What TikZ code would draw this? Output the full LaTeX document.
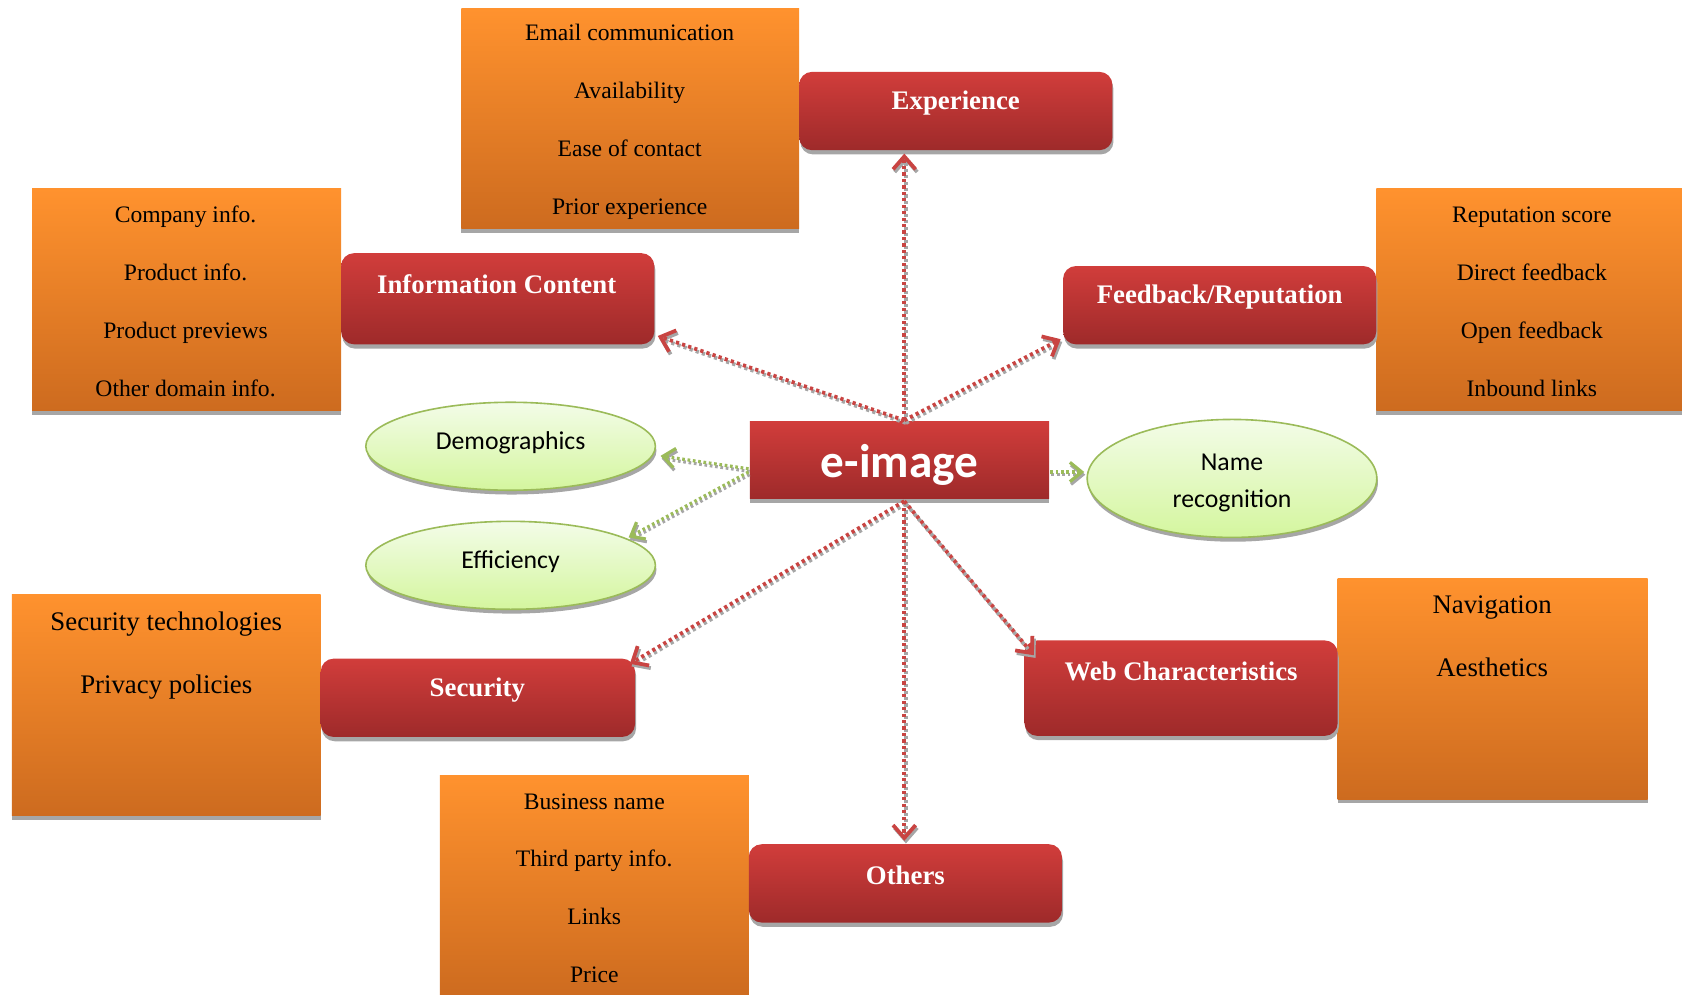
\documentclass[tikz,border=0pt]{standalone}
\usepackage{fontspec}
\setmainfont{Liberation Serif}
\newfontfamily\calib{Carlito}
\usetikzlibrary{arrows.meta,shapes.geometric,shadows,calc}
\definecolor{orT}{HTML}{FF922E}
\definecolor{orB}{HTML}{CD6B1F}
\definecolor{rdT}{HTML}{D13D3B}
\definecolor{rdB}{HTML}{9E2A2A}
\definecolor{grT}{HTML}{F3FCE8}
\definecolor{grB}{HTML}{D4F69E}
\definecolor{grE}{HTML}{9BBB59}
\definecolor{shd}{HTML}{A6A6A6}
\definecolor{arR}{HTML}{C94442}
\tikzset{
  orangebox/.style={rectangle, draw=none, top color=orT, bottom color=orB, inner sep=0pt,
    drop shadow={shadow xshift=0pt, shadow yshift=-4pt, fill=shd, opacity=1}},
  redbox/.style={rectangle, rounded corners=12pt, draw=none, top color=rdT, bottom color=rdB, inner sep=0pt,
    drop shadow={shadow xshift=1pt, shadow yshift=-4pt, fill=shd, opacity=1}},
  greenell/.style={ellipse, draw=grE, line width=1.5pt, top color=grT, bottom color=grB, inner sep=0pt,
    drop shadow={shadow xshift=1pt, shadow yshift=-4pt, fill=shd, opacity=1},
    font=\calib\fontsize{24}{35}\selectfont, align=center},
  greentext/.style={inner sep=0pt, align=center, font=\calib\fontsize{24}{35}\selectfont},
  ortext/.style={align=center, inner sep=0pt, font=\fontsize{22}{54}\selectfont},
  ortextbig/.style={align=center, inner sep=0pt, font=\fontsize{25}{59}\selectfont},
  redtext/.style={inner sep=0pt, text=white, font=\bfseries\fontsize{25}{30}\selectfont},
  redarrow/.style={draw=arR, line width=3.5pt, dash pattern=on 3pt off 3pt,
    -{Straight Barb[length=12pt,width=21pt,line width=3.5pt]}},
  redshadow/.style={draw=shd, line width=3.5pt, dash pattern=on 3pt off 3pt,
    -{Straight Barb[length=12pt,width=21pt,line width=3.5pt]},
    transform canvas={xshift=1.5pt,yshift=-2.5pt}},
  greenarrow/.style={draw=grE, line width=3pt, dash pattern=on 2.5pt off 2.5pt,
    -{Straight Barb[length=11pt,width=18pt,line width=3pt]}},
  greenshadow/.style={draw=shd, line width=3pt, dash pattern=on 2.5pt off 2.5pt,
    -{Straight Barb[length=11pt,width=18pt,line width=3pt]},
    transform canvas={xshift=1pt,yshift=-2.5pt}},
}
\begin{document}
\begin{tikzpicture}[x=1pt,y=-1pt]
\useasboundingbox (0,0) rectangle (1568,927);
% orange boxes
\node[orangebox, minimum width=315pt, minimum height=205pt] (expO) at (587.5,110.5) {};
\node[orangebox, minimum width=288pt, minimum height=207pt] (icO) at (174,279.5) {};
\node[orangebox, minimum width=285pt, minimum height=207pt] (fbO) at (1425.5,279.5) {};
\node[orangebox, minimum width=288pt, minimum height=206pt] (seO) at (155,657) {};
\node[orangebox, minimum width=289pt, minimum height=206pt] (wcO) at (1391.5,642) {};
\node[orangebox, minimum width=288pt, minimum height=206pt] (otO) at (554,826) {};
% orange texts
\node[ortext] (expL) at (587,113.5) {Email communication\\Availability\\Ease of contact\\Prior experience};
\node[ortext] (icL) at (173,281) {Company info.\\Product info.\\Product previews\\Other domain info.};
\node[ortext] (fbL) at (1428,281) {Reputation score\\Direct feedback\\Open feedback\\Inbound links};
\node[ortextbig] (seL) at (155,611) {Security technologies\\Privacy policies};
\node[ortextbig] (wcL) at (1391,593) {Navigation\\Aesthetics};
\node[ortext] (otL) at (554,828) {Business name\\Third party info.\\Links\\Price};
% red boxes
\node[redbox, minimum width=292pt, minimum height=73pt] (expR) at (891,103.5) {};
\node[redbox, minimum width=292pt, minimum height=85pt] (icR) at (464,278.5) {};
\node[redbox, minimum width=292pt, minimum height=73pt] (fbR) at (1137,284.5) {};
\node[redbox, minimum width=293pt, minimum height=73pt] (seR) at (445.5,650.5) {};
\node[redbox, minimum width=292pt, minimum height=89pt] (wcR) at (1101,641.5) {};
\node[redbox, minimum width=292pt, minimum height=73pt] (otR) at (844,823.5) {};
\node[redtext] (expT) at (891,96) {Experience};
\node[redtext] (icT) at (463,265) {Information Content};
\node[redtext] (fbT) at (1137,277) {Feedback/Reputation};
\node[redtext] (seT) at (445,643) {Security};
\node[redtext] (wcT) at (1101,626) {Web Characteristics};
\node[redtext] (otT) at (844,816) {Others};
% centre
\node[rectangle, draw=none, top color=rdT, bottom color=rdB, inner sep=0pt,
  minimum width=279pt, minimum height=72pt,
  drop shadow={shadow xshift=0pt, shadow yshift=-4pt, fill=shd, opacity=1}] (ei) at (838.5,429) {};
\node[inner sep=0pt, text=white, font=\calib\bfseries\fontsize{44}{50}\selectfont] (eiT) at (838.5,433) {e-image};
% ellipses
\node[greenell, minimum width=270pt, minimum height=82pt] (dem) at (476,416) {};
\node[greenell, minimum width=270pt, minimum height=82pt] (eff) at (476,527) {};
\node[greenell, minimum width=270pt, minimum height=110pt] (nr) at (1148.5,446) {};
\node[greentext] (demT) at (476,413) {Demographics};
\node[greentext] (effT) at (476,524) {Efficiency};
\node[greentext] (nrT) at (1148.5,450) {Name\\recognition};
% connectors: shadows
\draw[redshadow] ($(ei.north)+(4.5,-1)$) -- ($(expR.south)+(-48,3)$);
\draw[redshadow] ($(ei.north)+(4.5,-1)$) -- ($(icR.south east)+(3,-8)$);
\draw[redshadow] ($(ei.north)+(4.5,-1)$) -- ($(fbR.south west)+(-2,-5)$);
\draw[redshadow] ($(ei.south)+(4.5,2)$) -- ($(seR.north east)+(-5,5)$);
\draw[redshadow] ($(ei.south)+(4.5,2)$) -- ($(wcR.north west)+(9,14)$);
\draw[redshadow] ($(ei.south)+(4.5,2)$) -- ($(otR.north)+(-1,-3)$);
\draw[greenshadow] ($(ei.west)+(-1,8)$) -- ($(dem.east)+(4,9)$);
\draw[greenshadow] ($(ei.west)+(-1,11)$) -- ($(eff.center)+(110,-26)$);
\draw[greenshadow] ($(ei.east)+(1,11)$) -- ($(nr.west)+(-2,-6)$);
% connectors
\draw[redarrow] ($(ei.north)+(4.5,-1)$) -- ($(expR.south)+(-48,3)$);
\draw[redarrow] ($(ei.north)+(4.5,-1)$) -- ($(icR.south east)+(3,-8)$);
\draw[redarrow] ($(ei.north)+(4.5,-1)$) -- ($(fbR.south west)+(-2,-5)$);
\draw[redarrow] ($(ei.south)+(4.5,2)$) -- ($(seR.north east)+(-5,5)$);
\draw[redarrow] ($(ei.south)+(4.5,2)$) -- ($(wcR.north west)+(9,14)$);
\draw[redarrow] ($(ei.south)+(4.5,2)$) -- ($(otR.north)+(-1,-3)$);
\draw[greenarrow] ($(ei.west)+(-1,8)$) -- ($(dem.east)+(4,9)$);
\draw[greenarrow] ($(ei.west)+(-1,11)$) -- ($(eff.center)+(110,-26)$);
\draw[greenarrow] ($(ei.east)+(1,11)$) -- ($(nr.west)+(-2,-6)$);
\end{tikzpicture}
\end{document}
